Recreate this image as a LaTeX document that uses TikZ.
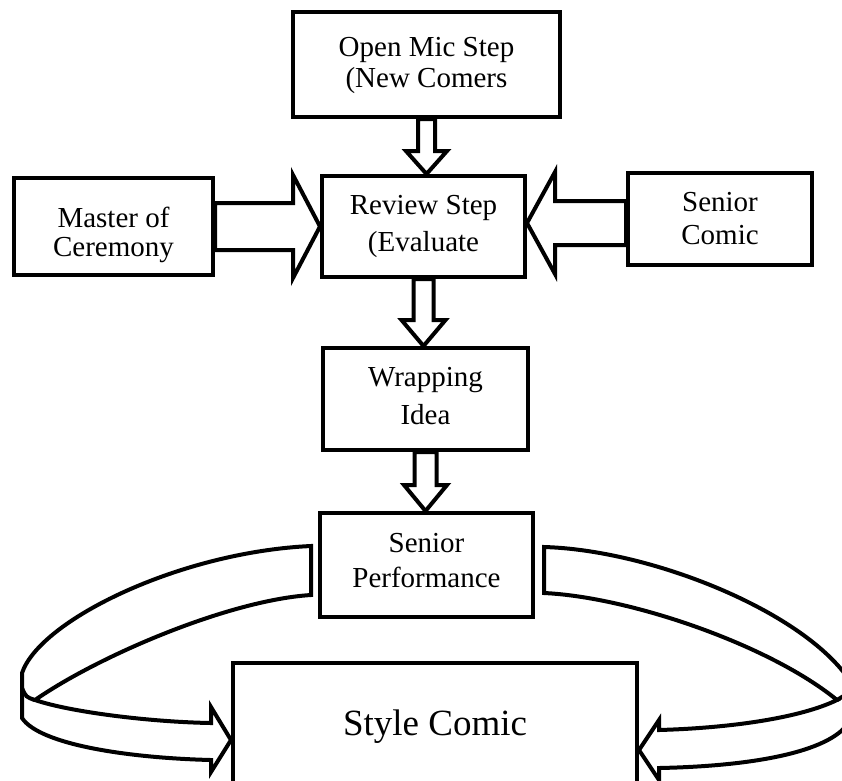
\documentclass[tikz,border=0pt]{standalone}
\usepackage{fontspec}
\setmainfont{Liberation Serif}
\usetikzlibrary{calc, backgrounds}

\begin{document}
\begin{tikzpicture}[
    x=1pt, y=-1pt,
    box/.style 2 args={
        rectangle,
        draw=black,
        line width=4pt,
        fill=white,
        align=center,
        inner sep=0pt,
        text height=#2,
        font=\fontsize{29}{#1}\selectfont
    },
    blk/.style={
        draw=black,
        line width=4pt,
        fill=white,
        line join=miter
    },
    downblk/.style n args={3}{
        to path={let \p1=(\tikztostart), \p2=(\tikztotarget) in
            (\x1-#1,\y1) -- (\x1-#1,\y2+#3) -- (\x1-#2,\y2+#3) -- (\x1,\y2)
            -- (\x1+#2,\y2+#3) -- (\x1+#1,\y2+#3) -- (\x1+#1,\y1) -- cycle}
    },
    rightblk/.style n args={3}{
        to path={let \p1=(\tikztostart), \p2=(\tikztotarget) in
            (\x1,\y1+#1) -- (\x2-#3,\y1+#1) -- (\x2-#3,\y1+#2) -- (\x2,\y1)
            -- (\x2-#3,\y1-#2) -- (\x2-#3,\y1-#1) -- (\x1,\y1-#1) -- cycle}
    },
    leftblk/.style n args={3}{
        to path={let \p1=(\tikztostart), \p2=(\tikztotarget) in
            (\x1,\y1+#1) -- (\x2+#3,\y1+#1) -- (\x2+#3,\y1+#2) -- (\x2,\y1)
            -- (\x2+#3,\y1-#2) -- (\x2+#3,\y1-#1) -- (\x1,\y1-#1) -- cycle}
    }
]

\useasboundingbox (0,0) rectangle (842,780);

% Boxes
\node[box={31}{52pt}, minimum width=267pt, minimum height=105pt] (open)   at (426.5,64.5)  {Open Mic Step\\(New Comers};
\node[box={37}{56pt}, minimum width=203pt, minimum height=101pt] (review) at (423.5,226.5) {Review Step\\(Evaluate};
\node[box={29}{67pt}, minimum width=199pt, minimum height=97pt]  (master) at (113.5,226.5) {Master of\\Ceremony};
\node[box={33}{52pt}, minimum width=184pt, minimum height=92pt]  (scomic) at (720,219)     {Senior\\Comic};
\node[box={38}{52pt}, minimum width=205pt, minimum height=102pt] (wrap)   at (425.5,399)   {Wrapping\\Idea};
\node[box={35}{46pt}, minimum width=213pt, minimum height=104pt] (perf)   at (426.5,565)   {Senior\\Performance};
\node[box={42}{26pt}, minimum width=404pt, minimum height=127pt,
      font=\fontsize{37}{42}\selectfont] (style) at (435,726.5) {Style Comic};

% Curved arrow ends
\coordinate (ltop) at ($(perf.west)+(-7,-19)$);
\coordinate (lbot) at ($(perf.west)+(-7,30)$);
\coordinate (ltip) at ($(style.west)+(0,13.5)$);
\coordinate (rtop) at ($(perf.east)+(9,-18)$);
\coordinate (rbot) at ($(perf.east)+(9,28)$);
\coordinate (rtip) at ($(style.east)+(0,23.5)$);

\begin{scope}[on background layer]
    % Block arrows
    \draw[blk, downblk={8.5pt}{20.5pt}{23pt}] (open.south) to (review.north);
    \draw[blk, downblk={10pt}{22pt}{26pt}] (review.south) to (wrap.north);
    \draw[blk, downblk={11pt}{21.5pt}{26pt}] (wrap.south) to (perf.north);
    \draw[blk, rightblk={23.5pt}{51.5pt}{27pt}] (master.east) to (review.west);
    \draw[blk, leftblk={22pt}{51pt}{28pt}] ([yshift=-4pt]scomic.west) to (review.east);

    % Curved arrow, left side
    \draw[blk] (ltop) .. controls (180,552) and (40,620) .. (22,673) -- (22,718)
        .. controls (40,745) and (130,758) .. ($(ltip)+(-20,20)$)
        -- ($(ltip)+(-20,32)$) -- (ltip) -- ($(ltip)+(-20,-33)$) -- ($(ltip)+(-20,-17)$)
        .. controls (150,722) and (70,712) .. (35,700)
        .. controls (100,655) and (230,600) .. (lbot) -- cycle;
    \draw[blk, fill=none] (22,688) .. controls (26,697) .. (35,700);

    % Curved arrow, right side
    \draw[blk] (rtop) .. controls (650,550) and (800,610) .. (848,678) -- (850,720)
        .. controls (835,750) and (760,766) .. ($(rtip)+(20,18)$)
        -- ($(rtip)+(20,30)$) -- (rtip) -- ($(rtip)+(20,-30)$) -- ($(rtip)+(20,-20)$)
        .. controls (730,728) and (800,718) .. (837,700)
        .. controls (770,645) and (630,597) .. (rbot) -- cycle;
    \draw[blk, fill=none] (837,700) -- (850,692);
\end{scope}

\end{tikzpicture}
\end{document}
